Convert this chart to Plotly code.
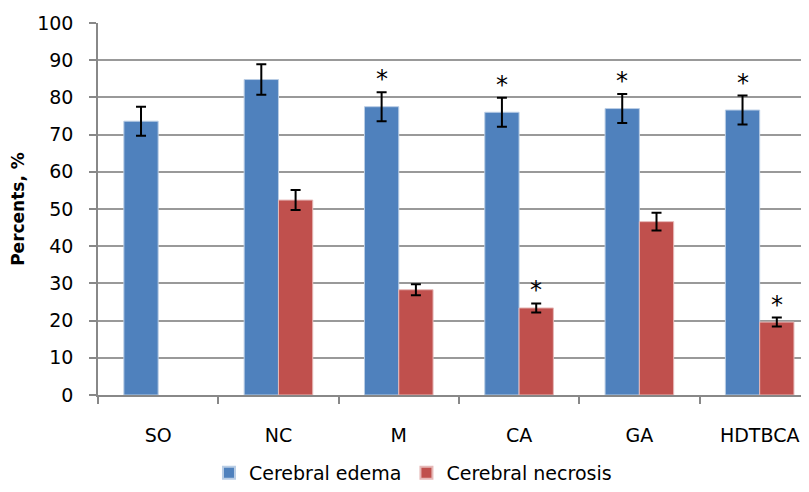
import plotly.graph_objects as go

groups = ["SO", "NC", "M", "CA", "GA", "HDTBCA"]
edema = [73.6, 84.8, 77.5, 76.0, 77.0, 76.6]
edema_err = [3.9, 4.1, 3.9, 3.9, 3.9, 3.9]
necrosis = [None, 52.4, 28.3, 23.4, 46.6, 19.6]
necrosis_err = [0, 2.7, 1.5, 1.2, 2.4, 1.2]
edema_sig = [False, False, True, True, True, True]
necrosis_sig = [False, False, False, True, False, True]

BLUE = "#4F81BD"
RED = "#C0504D"
FONT = "DejaVu Sans"
bargap = 0.43
half = (1 - bargap) / 4  # center offset of each bar in a 2-bar group

fig = go.Figure()
fig.add_trace(go.Bar(
    name="Cerebral edema", x=groups, y=edema, marker_color=BLUE,
    marker_line=dict(color="#B9CDE5", width=1),
    error_y=dict(type="data", array=edema_err, color="black", thickness=2, width=5),
))
fig.add_trace(go.Bar(
    name="Cerebral necrosis", x=groups, y=necrosis, marker_color=RED,
    marker_line=dict(color="#E6B9B8", width=1),
    error_y=dict(type="data", array=necrosis_err, color="black", thickness=2, width=5),
))

anns = []
for i, g in enumerate(groups):
    if edema_sig[i]:
        anns.append(dict(x=i - half, y=edema[i] + edema_err[i], xref="x", yref="y",
                         text="*", showarrow=False, yanchor="bottom", yshift=-3,
                         font=dict(family=FONT, size=24, color="black")))
    if necrosis_sig[i]:
        anns.append(dict(x=i + half, y=necrosis[i] + necrosis_err[i], xref="x", yref="y",
                         text="*", showarrow=False, yanchor="bottom", yshift=-3,
                         font=dict(family=FONT, size=24, color="black")))

fig.update_layout(
    width=801, height=484,
    margin=dict(l=90, r=0, t=15, b=92),
    paper_bgcolor="white", plot_bgcolor="white",
    barmode="group", bargap=bargap, bargroupgap=0,
    font=dict(family=FONT, size=19, color="black"),
    annotations=anns,
    showlegend=True,
    legend=dict(orientation="h", x=0.443, xref="paper", xanchor="center",
                y=-0.16, yanchor="top", font=dict(size=19),
                itemsizing="constant", traceorder="normal", itemwidth=30),
    xaxis=dict(
        type="category", range=[-0.5, 5.41], automargin=False,
        showline=True, linecolor="#888888", linewidth=1.5,
        ticks="outside", tickson="boundaries", ticklen=7, tickcolor="#888888",
        tickwidth=1.5, showgrid=False, tickfont=dict(size=19),
        ticklabelstandoff=22,
    ),
    yaxis=dict(
        range=[0, 100], dtick=10, showline=True, linecolor="#888888", linewidth=1.5,
        automargin=False,
        ticks="outside", ticklen=7, tickcolor="#888888", tickwidth=1.5,
        showgrid=True, gridcolor="#999999", gridwidth=1.5,
        zeroline=False, tickfont=dict(size=19), ticklabelstandoff=12,
        title=dict(text="<b>Percents, %</b>", font=dict(size=17), standoff=14),
    ),
)

fig.write_html("out.html")
